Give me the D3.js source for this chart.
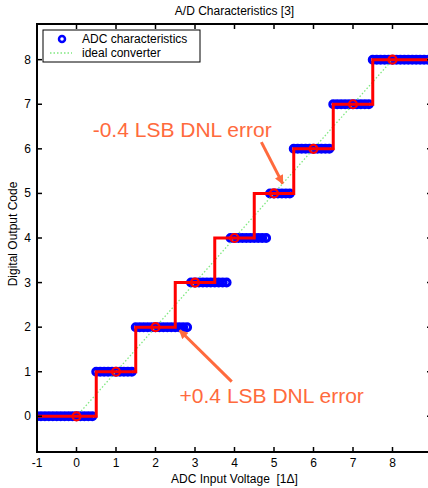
<!DOCTYPE html>
<html>
<head>
<meta charset="utf-8">
<script src="https://cdn.jsdelivr.net/npm/d3@7"></script>
<style>
    body { margin: 0; background: #fff; }
    text { font-family: "Liberation Sans", Arial, sans-serif; }
    .tick_label { font-size: 12px; fill: #000; }
    .annot { font-size: 21px; fill: #ff6a3d; }
</style>
</head>
<body>
<div id="chart"></div>
<script>

// measured ADC: input voltage samples [LSB] and the code it gave
const inputVoltage = [
    -1.0, -0.9, -0.8, -0.7, -0.6, -0.5, -0.4, -0.3, -0.2, -0.1, 0.0, 0.1, 0.2, 0.3, 0.4,
    0.5, 0.6, 0.7, 0.8, 0.9, 1.0, 1.1, 1.2, 1.3, 1.4,
    1.5, 1.6, 1.7, 1.8, 1.9, 2.0, 2.1, 2.2, 2.3, 2.4, 2.5, 2.6, 2.7, 2.8,
    2.9, 3.0, 3.1, 3.2, 3.3, 3.4, 3.5, 3.6, 3.7, 3.8,
    3.9, 4.0, 4.1, 4.2, 4.3, 4.4, 4.5, 4.6, 4.7, 4.8,
    4.9, 5.0, 5.1, 5.2, 5.3, 5.4,
    5.5, 5.6, 5.7, 5.8, 5.9, 6.0, 6.1, 6.2, 6.3, 6.4,
    6.5, 6.6, 6.7, 6.8, 6.9, 7.0, 7.1, 7.2, 7.3, 7.4,
    7.5, 7.6, 7.7, 7.8, 7.9, 8.0, 8.1, 8.2, 8.3, 8.4, 8.5, 8.6, 8.7, 8.8, 8.9, 9.0
];
const outputCode = [
    0, 0, 0, 0, 0, 0, 0, 0, 0, 0, 0, 0, 0, 0, 0,
    1, 1, 1, 1, 1, 1, 1, 1, 1, 1,
    2, 2, 2, 2, 2, 2, 2, 2, 2, 2, 2, 2, 2, 2,
    3, 3, 3, 3, 3, 3, 3, 3, 3, 3,
    4, 4, 4, 4, 4, 4, 4, 4, 4, 4,
    5, 5, 5, 5, 5, 5,
    6, 6, 6, 6, 6, 6, 6, 6, 6, 6,
    7, 7, 7, 7, 7, 7, 7, 7, 7, 7,
    8, 8, 8, 8, 8, 8, 8, 8, 8, 8, 8, 8, 8, 8, 8, 8
];

// ideal quantizer staircase (step-after corners)
const stairX = [-1, 0.5, 1.5, 2.5, 3.5, 4.5, 5.5, 6.5, 7.5, 9];
const stairY = [0, 1, 2, 3, 4, 5, 6, 7, 8, 8];

// code centres of the ideal quantizer
const centreX = [0, 1, 2, 3, 4, 5, 6, 7, 8];
const centreY = [0, 1, 2, 3, 4, 5, 6, 7, 8];

// ideal converter line
const idealX = [0, 8];
const idealY = [0, 8];

// axis ticks
const xTicks = [-1, 0, 1, 2, 3, 4, 5, 6, 7, 8];
const xTickMarks = [-1, 0, 1, 2, 3, 4, 5, 6, 7, 8, 9];
const yTicks = [0, 1, 2, 3, 4, 5, 6, 7, 8];

// annotations: label, text position, arrow tail, arrow head (data units)
const annotLabels = ["-0.4 LSB DNL error", "+0.4 LSB DNL error"];
const annotTextPos = [[0.41, 6.26], [2.61, 0.31]];
const arrowTail = [[4.68, 6.15], [3.93, 0.78]];
const arrowHead = [[5.22, 5.22], [2.61, 1.93]];

// size of the page and the axes box
let width = 428, height = 488;
let margin = {top: 24, left: 37, bottom: 452, right: 432};

let x = d3.scaleLinear().domain([-1, 9]).range([margin.left, margin.right]);
let y = d3.scaleLinear().domain([-0.8, 8.8]).range([margin.bottom, margin.top]);

let svg = d3.select("#chart")
    .append("svg")
    .attr("width", width)
    .attr("height", height);

svg.append("defs")
    .append("clipPath")
    .attr("id", "plot_clip")
    .append("rect")
    .attr("x", margin.left)
    .attr("y", margin.top)
    .attr("width", margin.right - margin.left)
    .attr("height", margin.bottom - margin.top);

svg.append("defs")
    .append("marker")
    .attr("id", "arrow_head")
    .attr("viewBox", "0 0 10 10")
    .attr("refX", 9)
    .attr("refY", 5)
    .attr("markerUnits", "userSpaceOnUse")
    .attr("markerWidth", 11)
    .attr("markerHeight", 9)
    .attr("orient", "auto")
    .append("path")
    .attr("d", "M0,0 L10,5 L0,10 z")
    .attr("fill", "#ff6a3d");

let plot = svg.append("g").attr("clip-path", "url(#plot_clip)");

// ADC characteristics, blue circles
let adcPoints = inputVoltage.map((v, i) => [v, outputCode[i]]);
plot.selectAll(".adc")
    .data(adcPoints)
    .enter()
    .append("circle")
    .attr("cx", d => x(d[0]))
    .attr("cy", d => y(d[1]))
    .attr("r", 3.4)
    .attr("fill", "none")
    .attr("stroke", "#0000ff")
    .attr("stroke-width", 3.2);

// ideal converter, green dotted
let line = d3.line().x(d => x(d[0])).y(d => y(d[1]));
plot.append("path")
    .attr("d", line(idealX.map((v, i) => [v, idealY[i]])))
    .attr("fill", "none")
    .attr("stroke", "#80e880")
    .attr("stroke-width", 1.3)
    .attr("stroke-dasharray", "1.5,2");

// staircase in red
let stair = d3.line().x(d => x(d[0])).y(d => y(d[1])).curve(d3.curveStepAfter);
plot.append("path")
    .attr("d", stair(stairX.map((v, i) => [v, stairY[i]])))
    .attr("fill", "none")
    .attr("stroke", "#ff0000")
    .attr("stroke-width", 3);

plot.selectAll(".centre")
    .data(centreX.map((v, i) => [v, centreY[i]]))
    .enter()
    .append("circle")
    .attr("cx", d => x(d[0]))
    .attr("cy", d => y(d[1]))
    .attr("r", 4)
    .attr("fill", "none")
    .attr("stroke", "#ff0000")
    .attr("stroke-width", 2.2);

// axes box with inward ticks (matlab style)
let box = svg.append("g");
box.append("rect")
    .attr("x", margin.left)
    .attr("y", margin.top)
    .attr("width", margin.right - margin.left)
    .attr("height", margin.bottom - margin.top)
    .attr("fill", "none")
    .attr("stroke", "#000")
    .attr("stroke-width", 2);

let tickLen = 5;
xTickMarks.forEach(t => {
    box.append("line")
        .attr("x1", x(t)).attr("x2", x(t))
        .attr("y1", margin.bottom).attr("y2", margin.bottom - tickLen)
        .attr("stroke", "#000").attr("stroke-width", 1.5);
    box.append("line")
        .attr("x1", x(t)).attr("x2", x(t))
        .attr("y1", margin.top).attr("y2", margin.top + tickLen)
        .attr("stroke", "#000").attr("stroke-width", 1.5);
});
yTicks.forEach(t => {
    box.append("line")
        .attr("x1", margin.left).attr("x2", margin.left + tickLen)
        .attr("y1", y(t)).attr("y2", y(t))
        .attr("stroke", "#000").attr("stroke-width", 1.5);
    box.append("line")
        .attr("x1", margin.right).attr("x2", margin.right - tickLen)
        .attr("y1", y(t)).attr("y2", y(t))
        .attr("stroke", "#000").attr("stroke-width", 1.5);
});

svg.selectAll(".xlab")
    .data(xTicks)
    .enter()
    .append("text")
    .classed("tick_label", true)
    .attr("x", d => x(d))
    .attr("y", 467)
    .attr("text-anchor", "middle")
    .text(d => d);

svg.selectAll(".ylab")
    .data(yTicks)
    .enter()
    .append("text")
    .classed("tick_label", true)
    .attr("x", 31)
    .attr("y", d => y(d) + 4)
    .attr("text-anchor", "end")
    .text(d => d);

// titles
svg.append("text")
    .classed("tick_label", true)
    .attr("x", (margin.left + margin.right) / 2)
    .attr("y", 15)
    .attr("text-anchor", "middle")
    .text("A/D Characteristics [3]");

svg.append("text")
    .classed("tick_label", true)
    .attr("x", (margin.left + margin.right) / 2)
    .attr("y", 483)
    .attr("text-anchor", "middle")
    .style("white-space", "pre")
    .text("ADC Input Voltage  [1\u0394]");

svg.append("text")
    .classed("tick_label", true)
    .attr("transform", "translate(17," + ((margin.top + margin.bottom) / 2 - 4) + ") rotate(-90)")
    .attr("text-anchor", "middle")
    .text("Digital Output Code");

// legend
let legend = svg.append("g");
legend.append("rect")
    .attr("x", 43).attr("y", 30)
    .attr("width", 157).attr("height", 32)
    .attr("fill", "#fff")
    .attr("stroke", "#000")
    .attr("stroke-width", 1);
legend.append("circle")
    .attr("cx", 62).attr("cy", 39).attr("r", 3)
    .attr("fill", "none").attr("stroke", "#0000ff").attr("stroke-width", 2.5);
legend.append("text")
    .classed("tick_label", true)
    .attr("x", 82).attr("y", 43)
    .text("ADC characteristics");
legend.append("line")
    .attr("x1", 50).attr("x2", 72)
    .attr("y1", 53).attr("y2", 53)
    .attr("stroke", "#80e880").attr("stroke-width", 1.3)
    .attr("stroke-dasharray", "1.5,2");
legend.append("text")
    .classed("tick_label", true)
    .attr("x", 82).attr("y", 57)
    .text("ideal converter");

// DNL annotations
annotLabels.forEach((label, i) => {
    svg.append("text")
        .classed("annot", true)
        .attr("x", x(annotTextPos[i][0]))
        .attr("y", y(annotTextPos[i][1]))
        .text(label);
    svg.append("line")
        .attr("x1", x(arrowTail[i][0])).attr("y1", y(arrowTail[i][1]))
        .attr("x2", x(arrowHead[i][0])).attr("y2", y(arrowHead[i][1]))
        .attr("stroke", "#ff6a3d")
        .attr("stroke-width", 3)
        .attr("marker-end", "url(#arrow_head)");
});

</script>
</body>
</html>
